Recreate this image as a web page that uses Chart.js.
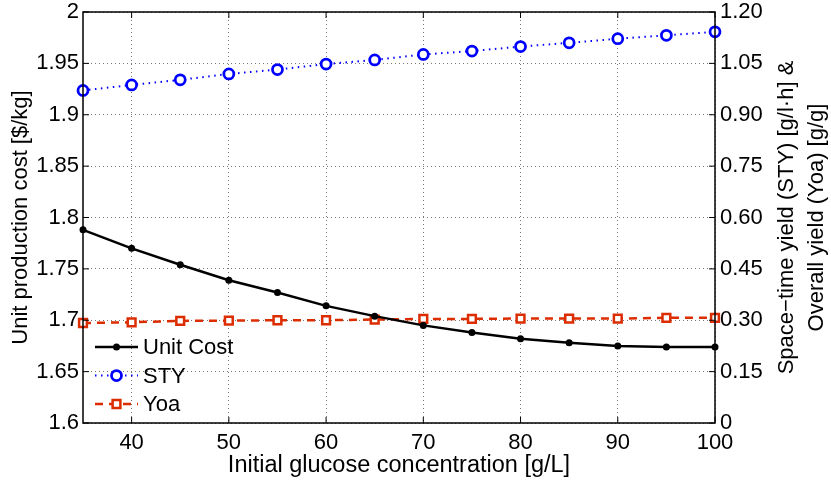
<!DOCTYPE html>
<html>
<head>
<meta charset="utf-8">
<script src="https://cdn.jsdelivr.net/npm/chart.js@4.4.0/dist/chart.umd.min.js"></script>
<style>
  html, body { margin: 0; padding: 0; background: #fff; }
  #wrap { width: 831px; height: 481px; }
</style>
</head>
<body>
<div id="wrap"><canvas id="chartGlucosa"></canvas></div>
<script>
// initial glucose concentration [g/L]
const concentration = [35, 40, 45, 50, 55, 60, 65, 70, 75, 80, 85, 90, 95, 100];
// unit production cost [$/kg] (left axis)
const unitCost = [1.788, 1.770, 1.754, 1.739, 1.727, 1.714, 1.704, 1.695, 1.688, 1.682, 1.678, 1.675, 1.674, 1.674];
// space-time yield [g/l·h] and overall yield [g/g] (right axis)
const sty = [0.971, 0.987, 1.002, 1.019, 1.032, 1.048, 1.060, 1.076, 1.086, 1.099, 1.110, 1.122, 1.132, 1.142];
const yoa = [0.292, 0.294, 0.298, 0.299, 0.300, 0.300, 0.302, 0.304, 0.304, 0.305, 0.305, 0.305, 0.307, 0.307];

const xTicks = [40, 50, 60, 70, 80, 90, 100];
const costTicks = [1.6, 1.65, 1.7, 1.75, 1.8, 1.85, 1.9, 1.95, 2];
const yieldTicks = [0, 0.15, 0.30, 0.45, 0.60, 0.75, 0.90, 1.05, 1.20];

const FONT = { family: '"Liberation Sans", Arial, sans-serif', size: 22 };
Chart.defaults.font.family = FONT.family;
Chart.defaults.color = '#000';

const pts = (ys) => concentration.map((x, i) => ({ x: x, y: ys[i] }));

// fixed axis sizes; tick labels may spill past the plot edges
const fitY = (w) => (s) => { s.width = w; s.paddingTop = 0; s.paddingBottom = 0; };

// black box around the plot with short inward ticks
const frame = {
  id: 'frame',
  afterDraw(chart) {
    const { ctx, chartArea: a, scales } = chart;
    ctx.save();
    ctx.strokeStyle = '#000';
    ctx.lineWidth = 1.5;
    ctx.strokeRect(a.left, a.top, a.right - a.left, a.bottom - a.top);
    ctx.lineWidth = 1;
    ctx.beginPath();
    xTicks.forEach(v => {
      const px = scales.x.getPixelForValue(v);
      ctx.moveTo(px, a.bottom); ctx.lineTo(px, a.bottom - 6);
      ctx.moveTo(px, a.top); ctx.lineTo(px, a.top + 6);
    });
    costTicks.forEach(v => {
      const py = scales.y.getPixelForValue(v);
      ctx.moveTo(a.left, py); ctx.lineTo(a.left + 6, py);
    });
    yieldTicks.forEach(v => {
      const py = scales.y1.getPixelForValue(v);
      ctx.moveTo(a.right, py); ctx.lineTo(a.right - 6, py);
    });
    ctx.stroke();
    ctx.restore();
  }
};

// right axis title, two lines reading bottom to top
const rightTitle = {
  id: 'rightTitle',
  afterDraw(chart) {
    const { ctx, chartArea: a } = chart;
    ctx.save();
    ctx.translate(787, (a.top + a.bottom) / 2);
    ctx.rotate(-Math.PI / 2);
    ctx.font = FONT.size + 'px ' + FONT.family;
    ctx.fillStyle = '#000';
    ctx.textAlign = 'center';
    ctx.textBaseline = 'middle';
    ctx.fillText('Space\u2212time yield (STY) [g/l\u00b7h] &', 0, 0);
    ctx.fillText('Overall yield (Yoa) [g/g]', 0, 30);
    ctx.restore();
  }
};

// legend in the lower left corner of the plot
const cornerLegend = {
  id: 'cornerLegend',
  afterDraw(chart) {
    const { ctx, chartArea: a } = chart;
    const x0 = a.left + 12, x1 = a.left + 55, xm = (x0 + x1) / 2;
    ctx.save();
    ctx.font = FONT.size + 'px ' + FONT.family;
    ctx.textBaseline = 'middle';
    chart.data.datasets.forEach((ds, i) => {
      const y = a.bottom - 76 + i * 28.5;
      ctx.strokeStyle = ds.borderColor;
      ctx.lineWidth = ds.borderWidth;
      ctx.setLineDash(ds.borderDash || []);
      ctx.beginPath();
      ctx.moveTo(x0, y); ctx.lineTo(x1, y);
      ctx.stroke();
      ctx.setLineDash([]);
      ctx.lineWidth = ds.pointBorderWidth;
      ctx.fillStyle = ds.pointBackgroundColor;
      ctx.strokeStyle = ds.pointBorderColor;
      ctx.beginPath();
      if (ds.pointStyle === 'rect') {
        const s = ds.pointRadius * Math.SQRT1_2;
        ctx.rect(xm - s, y - s, 2 * s, 2 * s);
      } else {
        ctx.arc(xm, y, ds.pointRadius, 0, Math.PI * 2);
      }
      ctx.fill();
      if (ds.pointBorderWidth) ctx.stroke();
      ctx.fillStyle = '#000';
      ctx.fillText(ds.label, x1 + 5, y + 1);
    });
    ctx.restore();
  }
};

const ctx = document.getElementById('chartGlucosa');

new Chart(ctx, {
  type: 'line',
  data: {
    datasets: [{
      label: 'Unit Cost',
      data: pts(unitCost),
      yAxisID: 'y',
      borderColor: '#000',
      borderWidth: 2.5,
      pointStyle: 'circle',
      pointRadius: 3.5,
      pointBorderWidth: 0,
      pointBackgroundColor: '#000',
      pointBorderColor: '#000',
      clip: false
    }, {
      label: 'STY',
      data: pts(sty),
      yAxisID: 'y1',
      borderColor: '#0000ff',
      borderWidth: 2,
      borderDash: [1.5, 4.5],
      pointStyle: 'circle',
      pointRadius: 5,
      pointBorderWidth: 2.75,
      pointBackgroundColor: '#fff',
      pointBorderColor: '#0000ff',
      clip: false
    }, {
      label: 'Yoa',
      data: pts(yoa),
      yAxisID: 'y1',
      borderColor: '#dc2d00',
      borderWidth: 2.5,
      borderDash: [8, 6],
      pointStyle: 'rect',
      pointRadius: 5.5,
      pointBorderWidth: 2.5,
      pointBackgroundColor: '#fff',
      pointBorderColor: '#dc2d00',
      clip: false
    }]
  },
  options: {
    responsive: true,
    maintainAspectRatio: false,
    animation: false,
    devicePixelRatio: 1,
    layout: { padding: { top: 12, left: 0, right: 0, bottom: 0 } },
    plugins: {
      legend: { display: false },
      tooltip: { enabled: false }
    },
    scales: {
      x: {
        type: 'linear',
        min: 35,
        max: 100,
        afterBuildTicks: s => { s.ticks = xTicks.map(v => ({ value: v })); },
        afterFit: s => { s.height = 58; s.paddingLeft = 0; s.paddingRight = 0; },
        grid: { color: '#777', lineWidth: 1, drawTicks: false },
        border: { display: false, dash: [1, 3] },
        ticks: { font: FONT, padding: 7, maxRotation: 0, autoSkip: false },
        title: {
          display: true,
          text: 'Initial glucose concentration [g/L]',
          font: { family: FONT.family, size: 23.5 },
          padding: { top: 0, bottom: 1 }
        }
      },
      y: {
        position: 'left',
        min: 1.6,
        max: 2,
        afterBuildTicks: s => { s.ticks = costTicks.map(v => ({ value: v })); },
        afterFit: fitY(83),
        grid: { color: '#777', lineWidth: 1, drawTicks: false },
        border: { display: false, dash: [1, 3] },
        ticks: {
          font: FONT,
          padding: 4,
          callback: v => String(parseFloat(v.toFixed(2)))
        },
        title: {
          display: true,
          text: 'Unit production cost [$/kg]',
          font: FONT,
          padding: { top: 8, bottom: 0 }
        }
      },
      y1: {
        position: 'right',
        min: 0,
        max: 1.2,
        afterBuildTicks: s => { s.ticks = yieldTicks.map(v => ({ value: v })); },
        afterFit: fitY(116),
        grid: { drawOnChartArea: false, drawTicks: false },
        border: { display: false },
        ticks: {
          font: FONT,
          padding: 5,
          callback: v => (v === 0 ? '0' : v.toFixed(2))
        }
      }
    }
  },
  plugins: [frame, rightTitle, cornerLegend]
});
</script>
</body>
</html>
